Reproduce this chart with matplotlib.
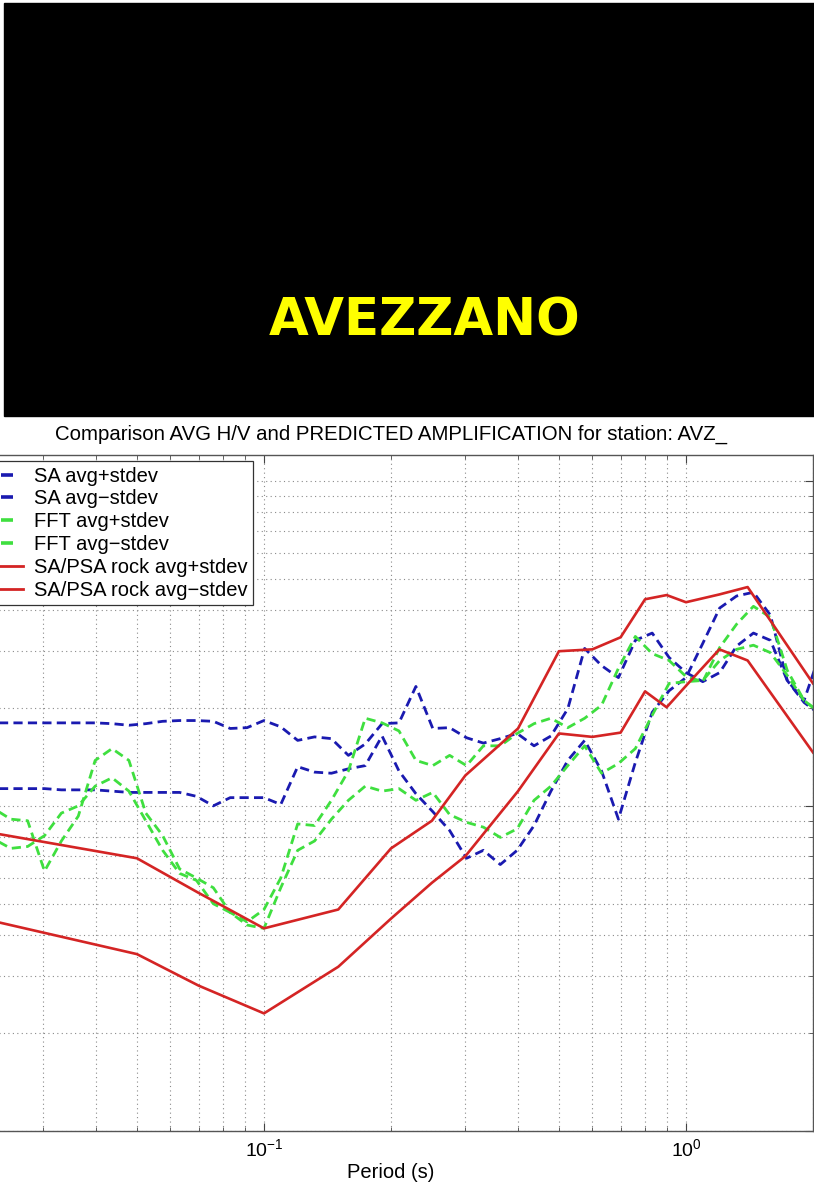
import matplotlib.pyplot as plt
from matplotlib.lines import Line2D
from matplotlib.patches import Rectangle
from matplotlib.ticker import NullFormatter

plt.rcParams["font.family"] = ["Liberation Sans", "DejaVu Sans"]

# periods (s) of the H/V curves
period = [
    0.02291, 0.02512, 0.02754, 0.03020, 0.03311, 0.03631, 0.03981, 0.04365,
    0.04786, 0.05248, 0.05754, 0.06310, 0.06918, 0.07586, 0.08318, 0.09120,
    0.1000, 0.1096, 0.1202, 0.1318, 0.1445, 0.1585, 0.1738, 0.1905,
    0.2089, 0.2291, 0.2512, 0.2754, 0.3020, 0.3311, 0.3631, 0.3981,
    0.4365, 0.4786, 0.5248, 0.5754, 0.6310, 0.6918, 0.7586, 0.8318,
    0.9120, 1.000, 1.096, 1.202, 1.318, 1.445, 1.585, 1.738, 1.905, 2.089,
]
sa_plus = [
    1.80, 1.80, 1.80, 1.80, 1.80, 1.80, 1.80, 1.79, 1.77, 1.79,
    1.82, 1.83, 1.83, 1.82, 1.73, 1.74, 1.83, 1.75, 1.59, 1.63,
    1.61, 1.43, 1.55, 1.79, 1.80, 2.33, 1.73, 1.74, 1.62, 1.56,
    1.61, 1.67, 1.53, 1.64, 1.99, 3.05, 2.70, 2.48, 3.23, 3.40,
    2.86, 2.57, 2.41, 2.57, 3.10, 3.40, 3.23, 2.43, 2.11, 3.00,
]
sa_minus = [
    1.13, 1.13, 1.13, 1.13, 1.12, 1.12, 1.12, 1.11, 1.10, 1.10,
    1.10, 1.10, 1.07, 1.00, 1.06, 1.06, 1.06, 1.01, 1.32, 1.27,
    1.26, 1.30, 1.33, 1.64, 1.28, 1.09, 0.96, 0.84, 0.69, 0.73,
    0.66, 0.73, 0.87, 1.11, 1.38, 1.59, 1.28, 0.91, 1.36, 1.94,
    2.26, 2.48, 3.16, 4.06, 4.42, 4.54, 3.86, 2.43, 2.08, 1.90,
]
fft_plus = [
    0.98, 0.91, 0.90, 0.63, 0.78, 0.93, 1.38, 1.50, 1.38, 0.95,
    0.81, 0.64, 0.60, 0.56, 0.47, 0.44, 0.48, 0.60, 0.88, 0.87,
    1.04, 1.28, 1.86, 1.80, 1.70, 1.38, 1.33, 1.43, 1.33, 1.53,
    1.53, 1.67, 1.79, 1.86, 1.74, 1.86, 2.04, 2.65, 3.32, 2.94,
    2.80, 2.50, 2.41, 3.07, 3.62, 4.11, 3.80, 2.61, 2.11, 1.92,
]
fft_minus = [
    0.79, 0.74, 0.75, 0.81, 0.95, 1.00, 1.15, 1.22, 1.11, 0.90,
    0.73, 0.62, 0.59, 0.50, 0.47, 0.43, 0.42, 0.56, 0.73, 0.78,
    0.91, 1.04, 1.15, 1.11, 1.13, 1.04, 1.10, 0.94, 0.89, 0.86,
    0.80, 0.85, 1.04, 1.15, 1.33, 1.53, 1.26, 1.35, 1.50, 1.90,
    2.38, 2.41, 2.43, 2.80, 3.03, 3.12, 2.96, 2.52, 2.11, 1.92,
]

# predicted rock amplification
rock_period = [0.02, 0.05, 0.07, 0.1, 0.15, 0.2, 0.25, 0.3, 0.4,
               0.5, 0.6, 0.7, 0.8, 0.9, 1.0, 1.2, 1.4, 2.0]
rock_plus = [0.85, 0.69, 0.54, 0.42, 0.48, 0.74, 0.90, 1.24, 1.73,
             2.99, 3.03, 3.30, 4.32, 4.45, 4.23, 4.47, 4.71, 2.38]
rock_minus = [0.46, 0.35, 0.28, 0.23, 0.32, 0.45, 0.58, 0.70, 1.11,
              1.67, 1.63, 1.68, 2.25, 2.01, 2.34, 3.03, 2.80, 1.46]

labels = ["SA avg+stdev", "SA avg\u2212stdev", "FFT avg+stdev",
          "FFT avg\u2212stdev", "SA/PSA rock avg+stdev", "SA/PSA rock avg\u2212stdev"]

blue = "#1a1ab0"
green = "#3fdf3f"
red = "#d42424"

W, H = 814, 1182
fig = plt.figure(figsize=(W / 100, H / 100), dpi=100)

# black banner with station name
fig.patches.append(Rectangle((4 / W, 1 - 416 / H), 810 / W, 413 / H,
                             transform=fig.transFigure, color="black", zorder=0))
fig.text(425 / W, 1 - 322 / H, "AVEZZANO", ha="center", va="center",
         color="#ffff00", fontsize=37, fontweight="bold", family="DejaVu Sans")

ax = fig.add_axes([-31 / W, 1 - 1131 / H, 844 / W, 676 / H])

dash = dict(lw=2.0, dashes=(3.3, 1.9))
ax.plot(period, sa_plus, color=blue, **dash)
ax.plot(period, sa_minus, color=blue, **dash)
ax.plot(period, fft_plus, color=green, **dash)
ax.plot(period, fft_minus, color=green, **dash)
ax.plot(rock_period, rock_plus, color=red, lw=1.9)
ax.plot(rock_period, rock_minus, color=red, lw=1.9)

ax.set_xscale("log")
ax.set_yscale("log")
ax.set_xlim(0.02, 2.0)
ax.set_ylim(0.1, 12.0)

ax.grid(True, which="both", ls=(0, (1, 3)), color="#8a8a8a", lw=0.8)
ax.tick_params(which="both", direction="in", top=True, right=True,
               color="#444444", labelsize=14, labelleft=False)
ax.tick_params(which="major", length=6)
ax.tick_params(which="minor", length=3)
ax.tick_params(axis="x", pad=5)
ax.xaxis.set_minor_formatter(NullFormatter())
for s in ax.spines.values():
    s.set_color("#555555")
    s.set_linewidth(1.0)

ax.set_title("Comparison AVG H/V and PREDICTED AMPLIFICATION for station: AVZ_",
             fontsize=14.7, pad=11)
ax.set_xlabel("Period (s)", fontsize=14.5, labelpad=2)

handles = [
    Line2D([], [], color=blue, ls="none", marker="_", ms=9, mew=2.6),
    Line2D([], [], color=blue, ls="none", marker="_", ms=9, mew=2.6),
    Line2D([], [], color=green, ls="none", marker="_", ms=9, mew=2.6),
    Line2D([], [], color=green, ls="none", marker="_", ms=9, mew=2.6),
    Line2D([], [], color=red, lw=2.0),
    Line2D([], [], color=red, lw=2.0),
]
leg = ax.legend(handles, labels, loc="upper left",
                bbox_to_anchor=(-14 / W, 1 - 461 / H), bbox_transform=fig.transFigure,
                fontsize=14.5, handlelength=1.55, handletextpad=0.55, borderpad=0.28,
                labelspacing=0.19, borderaxespad=0, fancybox=False,
                edgecolor="#333333", framealpha=1)
leg.get_frame().set_linewidth(0.9)

fig.savefig("out.png", dpi=100)
